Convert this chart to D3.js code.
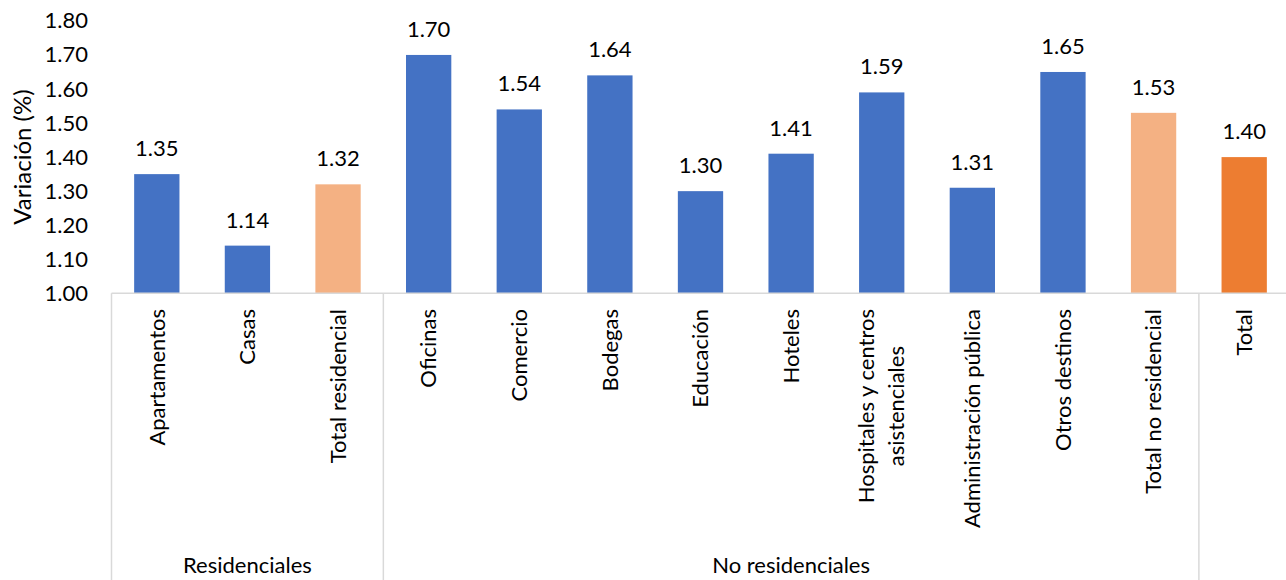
<!DOCTYPE html>
<html>
<head>
<meta charset="utf-8">
<script src="https://cdn.jsdelivr.net/npm/d3@7"></script>
<style>
  body { margin: 0; background: #fff; }
  svg { display: block; font-family: Lato, "Open Sans", sans-serif; }
  .tick text, .lbl, .val, .grp, .ytitle { fill: #000; }
</style>
</head>
<body>
<svg width="1286" height="580"></svg>
<script>
// **** data ****
var categories = ["Apartamentos", "Casas", "Total residencial", "Oficinas", "Comercio", "Bodegas",
    "Educación", "Hoteles", "Hospitales y centros\nasistenciales", "Administración pública",
    "Otros destinos", "Total no residencial", "Total"];
var values = [1.35, 1.14, 1.32, 1.70, 1.54, 1.64, 1.30, 1.41, 1.59, 1.31, 1.65, 1.53, 1.40];
var kinds = ["item", "item", "subtotal", "item", "item", "item", "item", "item", "item", "item",
    "item", "subtotal", "total"];
var groups = ["Residenciales", "No residenciales", ""];
var groupSizes = [3, 9, 1];
var yTicks = [1.0, 1.1, 1.2, 1.3, 1.4, 1.5, 1.6, 1.7, 1.8];

var kindColor = { item: "#4472C4", subtotal: "#F4B183", total: "#ED7D31" };
var fs = 22;

// **** scales ****
var svg = d3.select("svg");
var axisY = 293.3;

var x = d3.scaleBand()
    .domain(d3.range(categories.length))
    .range([111.5, 1289.5])
    .paddingInner(0.5).paddingOuter(0.25);

var y = d3.scaleLinear().domain([1, 1.8]).range([axisY, 20.9]);

// **** y axis ****
var yAxis = svg.append("g")
    .attr("transform", "translate(88,0)")
    .call(d3.axisLeft(y).tickValues(yTicks).tickFormat(d3.format(".2f")).tickSize(0).tickPadding(0));
yAxis.select(".domain").remove();
yAxis.selectAll("text").style("font-size", fs + "px").style("font-family", "Lato, sans-serif");

svg.append("text")
    .attr("class", "ytitle")
    .attr("transform", "translate(23,157) rotate(-90)")
    .attr("text-anchor", "middle")
    .attr("dy", "0.35em")
    .style("font-size", "24px")
    .text("Variación (%)");

// **** bars ****
svg.selectAll(".bar").data(values).enter().append("rect")
    .attr("class", "bar")
    .attr("x", function (d, i) { return x(i); })
    .attr("width", x.bandwidth())
    .attr("y", function (d) { return y(d); })
    .attr("height", function (d) { return axisY - y(d); })
    .style("fill", function (d, i) { return kindColor[kinds[i]]; });

svg.selectAll(".val").data(values).enter().append("text")
    .attr("class", "val")
    .attr("x", function (d, i) { return x(i) + x.bandwidth() / 2; })
    .attr("y", function (d) { return y(d) - 18; })
    .attr("text-anchor", "middle")
    .style("font-size", fs + "px")
    .text(function (d) { return d3.format(".2f")(d); });

// **** category axis ****
var step = x.step();
var x0 = x.range()[0];

svg.append("line")
    .attr("x1", x0).attr("x2", 1286)
    .attr("y1", axisY).attr("y2", axisY)
    .style("stroke", "#d9d9d9").style("stroke-width", 1.5);

var bounds = [0];
groupSizes.forEach(function (n, i) { bounds.push(bounds[i] + n); });

bounds.forEach(function (b) {
    svg.append("line")
        .attr("x1", x0 + b * step).attr("x2", x0 + b * step)
        .attr("y1", axisY).attr("y2", 580)
        .style("stroke", "#d9d9d9").style("stroke-width", 1.5);
});

categories.forEach(function (c, i) {
    var cx = x(i) + x.bandwidth() / 2;
    var lines = c.split("\n");
    var g = svg.append("g").attr("transform", "translate(" + cx + ",309) rotate(-90)");
    var t = g.append("text").attr("class", "lbl").style("font-size", fs + "px");
    lines.forEach(function (l, k) {
        t.append("tspan").attr("x", 0)
            .attr("dy", k === 0 ? (0.35 * fs - (lines.length - 1) * 15) + "px" : "30px")
            .text(l);
    });
    if (lines.length === 1) {
        t.attr("text-anchor", "end");
    } else {
        var L = d3.max(t.selectAll("tspan").nodes(), function (n) { return n.getComputedTextLength(); });
        t.attr("text-anchor", "middle");
        t.selectAll("tspan").attr("x", -L / 2);
    }
});

groups.forEach(function (gname, i) {
    var mid = x0 + (bounds[i] + bounds[i + 1]) / 2 * step;
    svg.append("text")
        .attr("class", "grp")
        .attr("x", mid).attr("y", 565)
        .attr("dy", "0.35em")
        .attr("text-anchor", "middle")
        .style("font-size", fs + "px")
        .text(gname);
});
</script>
</body>
</html>
